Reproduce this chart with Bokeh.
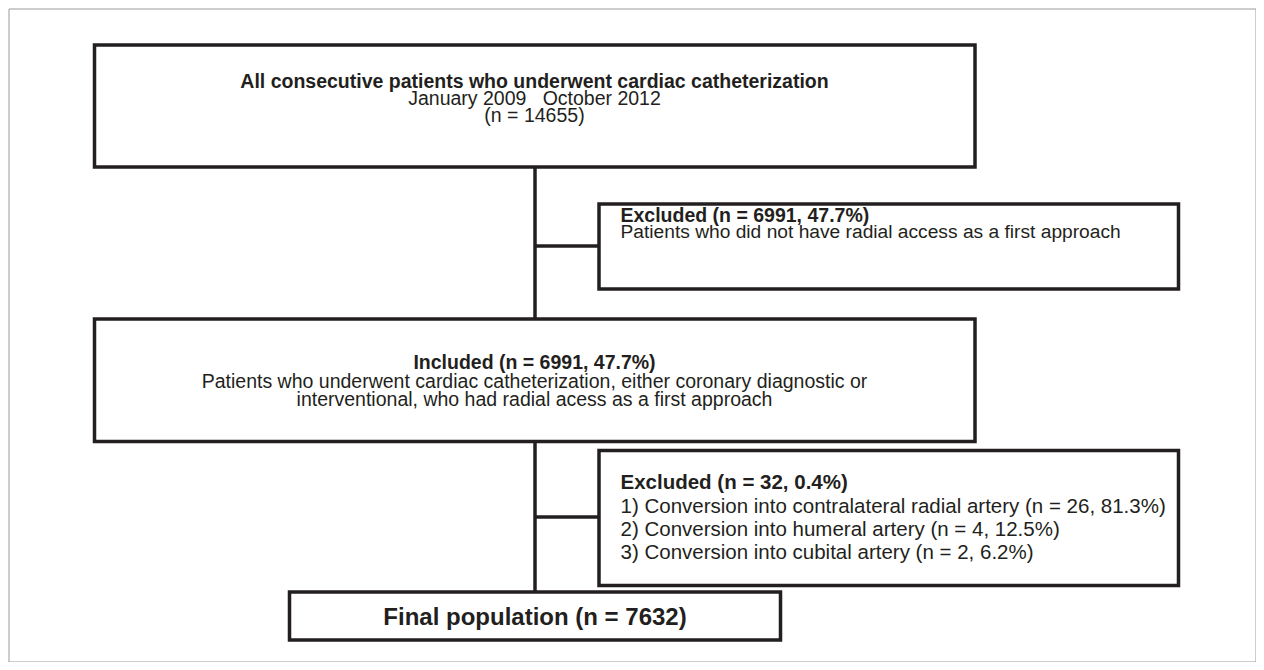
from bokeh.plotting import figure
from bokeh.models import Range1d
from bokeh.core.properties import value
from bokeh.embed import file_html
from bokeh.resources import INLINE

# ---------------- data ----------------
period = ["January 2009", "October 2012"]
n_total = 14655
n_excl1, pct_excl1 = 6991, 47.7
n_incl, pct_incl = 6991, 47.7
n_excl2, pct_excl2 = 32, 0.4
conv_sites = ["contralateral radial artery", "humeral artery", "cubital artery"]
conv_n = [26, 4, 2]
conv_pct = [81.3, 12.5, 6.2]
n_final = 7632

# ---------------- layout (reference pixel coordinates) ----------------
INK = "#231f20"
FONT = "'Liberation Sans', Arial, sans-serif"
LW = 3.5
NB = "\u00a0"

p = figure(width=1256, height=662, output_backend="svg", toolbar_location=None,
           x_range=Range1d(0, 1256), y_range=Range1d(662, 0),
           min_border=0)
p.axis.visible = False
p.grid.visible = False
p.outline_line_color = None
p.background_fill_color = "white"
p.border_fill_color = "white"

# outer frame
p.quad(left=[8.5], right=[1255.5], top=[8.5], bottom=[661.5],
       fill_color=None, line_color="#9a9a9a", line_width=1)

# connectors
spine_x = 534.5
p.segment(x0=[spine_x], y0=[166.5], x1=[spine_x], y1=[591.5], line_color=INK, line_width=LW)
p.segment(x0=[spine_x, spine_x], y0=[245.5, 516.5], x1=[598.5, 598.5], y1=[245.5, 516.5],
          line_color=INK, line_width=LW)

# boxes
bx_left = [94, 598.5, 94, 598.5, 289]
bx_right = [974.5, 1178, 974.5, 1178, 780]
bx_top = [44.5, 203.5, 318.5, 450, 591.5]
bx_bottom = [166.5, 288.5, 441, 585, 639.5]
p.quad(left=bx_left, right=bx_right, top=bx_top, bottom=bx_bottom,
       fill_color="white", line_color=INK, line_width=LW, line_join="miter")

def txt(x, y, s, size, bold=False, align="center"):
    p.text(x=[x], y=[y], text=[s], text_align=align, text_baseline="middle",
           text_font=value(FONT), text_font_size=f"{size}px",
           text_font_style="bold" if bold else "normal", text_color=INK)

# top box
txt(534, 80, "All consecutive patients who underwent cardiac catheterization", 19.5, True)
txt(534, 97.5, f"{period[0]}{NB*3}{period[1]}", 19.5)
txt(534, 114.5, f"(n = {n_total})", 19.5)

# excluded 1
txt(620, 214, f"Excluded (n = {n_excl1}, {pct_excl1}%)", 19.5, True, "left")
txt(620, 231, "Patients who did not have radial access as a first approach", 19.2, False, "left")

# included
txt(534, 361, f"Included (n = {n_incl}, {pct_incl}%)", 19.5, True)
txt(534, 380, "Patients who underwent cardiac catheterization, either coronary diagnostic or", 19.5)
txt(534, 398, "interventional, who had radial acess as a first approach", 19.5)

# excluded 2
txt(620, 481, f"Excluded (n = {n_excl2}, {pct_excl2}%)", 20.5, True, "left")
for i, (site, n, pc) in enumerate(zip(conv_sites, conv_n, conv_pct)):
    txt(620, 505 + 23 * i, f"{i+1}) Conversion into {site} (n = {n}, {pc}%)", 20.5, False, "left")

# final
txt(534.5, 616, f"Final population (n = {n_final})", 24, True)

open("out.html", "w").write(file_html(p, INLINE))
